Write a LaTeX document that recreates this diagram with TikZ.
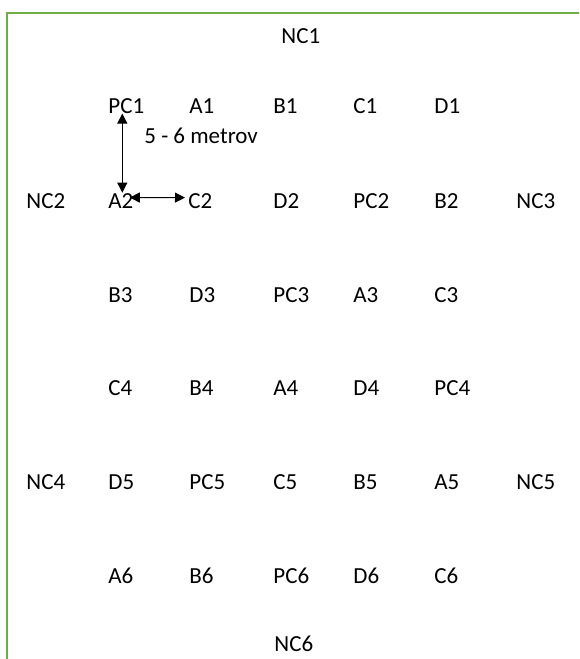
\documentclass[tikz,border=0pt]{standalone}
\usepackage{fontspec}
\setmainfont{Carlito}
\usetikzlibrary{arrows.meta,positioning}
\definecolor{frameGreen}{RGB}{112,173,71}

\begin{document}
\begin{tikzpicture}[x=0.5pt, y=-0.5pt,
      spot/.style={anchor=base west, inner sep=1pt, font=\fontsize{11.5}{13}\selectfont},
      note/.style={spot},
      span/.style={{Triangle[length=5pt,width=5pt]}-{Triangle[length=5pt,width=5pt]}, line width=0.5pt, draw=black},
      rim/.style={draw=frameGreen, line width=1.1pt}]

    \useasboundingbox (0,0) rectangle (579,659);
    \draw[rim] (7,659) -- (7,13) -- (579,13);

    % top and bottom
    \node[spot] (nc1) at (279,43) {NC1};
    \node[spot] (nc6) at (272,651) {NC6};

    % row 1
    \node[spot] (pc1) at (106,113) {PC1};
    \node[spot] (a1)  at (187,113) {A1};
    \node[spot] (b1)  at (271,113) {B1};
    \node[spot] (c1)  at (351,113) {C1};
    \node[spot] (d1)  at (432,113) {D1};

    % row 2
    \node[spot] (nc2) at (24,208)  {NC2};
    \node[spot] (a2)  at (106,208) {A2};
    \node[spot] (c2)  at (186,208) {C2};
    \node[spot] (d2)  at (271,208) {D2};
    \node[spot] (pc2) at (351,208) {PC2};
    \node[spot] (b2)  at (432,208) {B2};
    \node[spot] (nc3) at (514,208) {NC3};

    % row 3
    \node[spot] (b3)  at (106,302) {B3};
    \node[spot] (d3)  at (187,302) {D3};
    \node[spot] (pc3) at (271,302) {PC3};
    \node[spot] (a3)  at (351,302) {A3};
    \node[spot] (c3)  at (432,302) {C3};

    % row 4
    \node[spot] (c4)  at (106,395) {C4};
    \node[spot] (b4)  at (187,395) {B4};
    \node[spot] (a4)  at (271,395) {A4};
    \node[spot] (d4)  at (351,395) {D4};
    \node[spot] (pc4) at (432,395) {PC4};

    % row 5
    \node[spot] (nc4) at (24,489)  {NC4};
    \node[spot] (d5)  at (106,489) {D5};
    \node[spot] (pc5) at (187,489) {PC5};
    \node[spot] (c5)  at (271,489) {C5};
    \node[spot] (b5)  at (351,489) {B5};
    \node[spot] (a5)  at (432,489) {A5};
    \node[spot] (nc5) at (514,489) {NC5};

    % row 6
    \node[spot] (a6)  at (106,583) {A6};
    \node[spot] (b6)  at (187,583) {B6};
    \node[spot] (pc6) at (271,583) {PC6};
    \node[spot] (d6)  at (351,583) {D6};
    \node[spot] (c6)  at (432,583) {C6};

    % distance
    \node[note] (dist) at (142,143) {5 - 6 metrov};
    \draw[span] ([xshift=-2pt,yshift=1pt]pc1.south) -- ([xshift=-2pt,yshift=-1pt]pc1.south |- a2.north);
    \draw[span] ([xshift=-3pt,yshift=1.5pt]a2.east) -- ([xshift=-0.5pt,yshift=1.5pt]c2.west);
\end{tikzpicture}
\end{document}
